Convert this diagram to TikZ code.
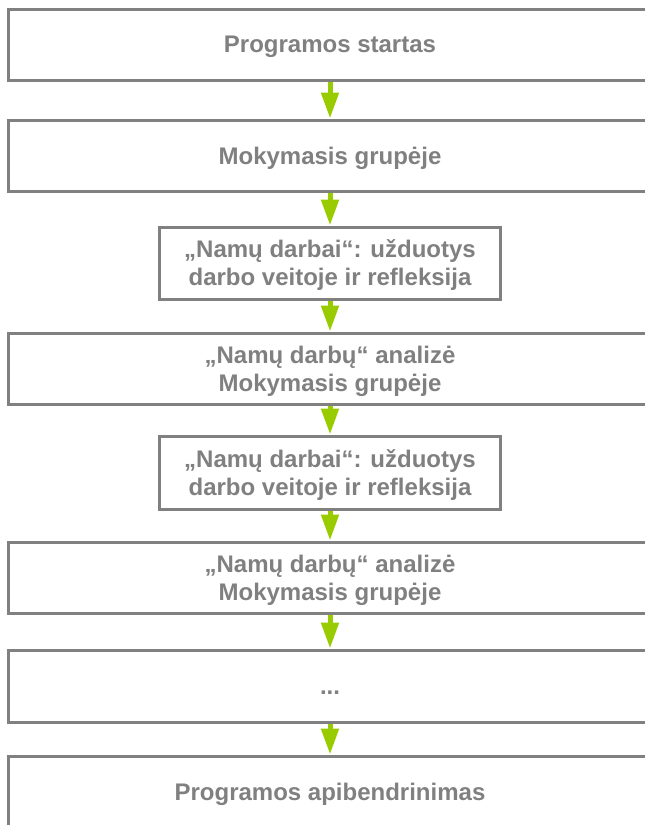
\documentclass[tikz,border=0pt]{standalone}
\usepackage{fontspec}
\setmainfont{Liberation Sans}
\usetikzlibrary{arrows.meta}

\definecolor{boxgray}{RGB}{128,128,128}
\definecolor{flowgreen}{RGB}{153,204,0}

\begin{document}
\begin{tikzpicture}[x=1pt, y=-1pt]
            \tikzstyle{stage} = [draw=boxgray, line width=3pt, fill=white,
                text=boxgray, font=\fontsize{24}{28}\selectfont\bfseries,
                align=center, minimum height=71pt, inner sep=0pt, text depth=0pt]
            \tikzstyle{widestage} = [stage, minimum width=644pt]
            \tikzstyle{narrowstage} = [stage, minimum width=341pt]
            \tikzstyle{flow} = [draw=flowgreen, line width=5pt,
                -{Triangle[length=26pt, width=17pt, fill=flowgreen]}]
            \useasboundingbox (0, 0) rectangle (645, 825);
            \clip (0, 0) rectangle (645, 825);
            % stages of the programme, top to bottom
            \node[widestage] (start) at (330, 44.5) {Programos startas};
            \node[widestage] (group1) at (330, 155.5) {Mokymasis grupėje};
            \node[narrowstage, minimum height=72pt] (home1) at (330, 263)
                {„Namų darbai“: užduotys\\darbo veitoje ir refleksija};
            \node[widestage] (review1) at (330, 368.5)
                {„Namų darbų“ analizė\\Mokymasis grupėje};
            \node[narrowstage, minimum height=73pt] (home2) at (330, 472.5)
                {„Namų darbai“: užduotys\\darbo veitoje ir refleksija};
            \node[widestage] (review2) at (330, 577.5)
                {„Namų darbų“ analizė\\Mokymasis grupėje};
            \node[widestage, minimum height=72pt] (more) at (330, 686)
                {\vphantom{P}...};
            \node[widestage] (summary) at (330, 791.5) {Programos apibendrinimas};
            % connectors
            \draw[flow] (start) -- (group1);
            \draw[flow] (group1) -- (home1);
            \draw[flow] (home1) -- (review1);
            \draw[flow] (review1) -- (home2);
            \draw[flow] (home2) -- (review2);
            \draw[flow] (review2) -- (more);
            \draw[flow] (more) -- (summary);
        \end{tikzpicture}
\end{document}
